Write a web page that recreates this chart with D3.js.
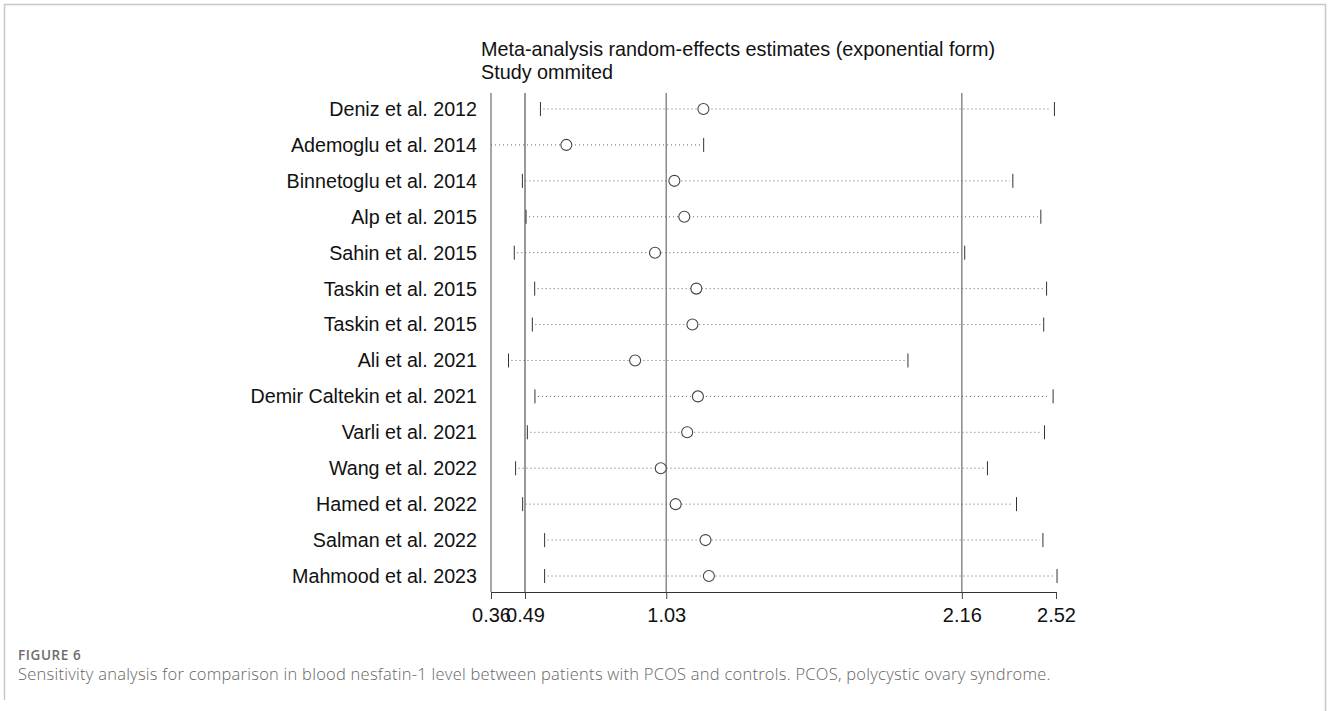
<!DOCTYPE html>
<html>
<head>
<meta charset="utf-8">
<script src="https://cdn.jsdelivr.net/npm/d3@7"></script>
<style>
  body { margin: 0; background: #fff; }
</style>
</head>
<body>
<div class="chart"></div>
<script>
// study omitted, with lower CI / estimate / upper CI (exponential form)
const studies = [
  "Deniz et al. 2012", "Ademoglu et al. 2014", "Binnetoglu et al. 2014", "Alp et al. 2015",
  "Sahin et al. 2015", "Taskin et al. 2015", "Taskin et al. 2015", "Ali et al. 2021",
  "Demir Caltekin et al. 2021", "Varli et al. 2021", "Wang et al. 2022", "Hamed et al. 2022",
  "Salman et al. 2022", "Mahmood et al. 2023"
];
const lower    = [0.549, 0.33, 0.480, 0.494, 0.449, 0.527, 0.518, 0.427, 0.528, 0.499, 0.454, 0.481, 0.565, 0.565];
const estimate = [1.172, 0.648, 1.061, 1.099, 0.987, 1.145, 1.130, 0.911, 1.151, 1.110, 1.009, 1.066, 1.180, 1.193];
const upper    = [2.514, 1.173, 2.355, 2.462, 2.171, 2.484, 2.473, 1.954, 2.509, 2.476, 2.258, 2.369, 2.470, 2.524];

const tickValues = [0.36, 0.49, 1.03, 2.16, 2.52];
const refLines = [0.49, 1.03, 2.16];
const titleLines = ["Meta-analysis random-effects estimates (exponential form)", "Study ommited"];
const figLabel = "FIGURE 6";
const caption = "Sensitivity analysis for comparison in blood nesfatin-1 level between patients with PCOS and controls. PCOS, polycystic ovary syndrome.";

const W = 1328, H = 711;
const svg = d3.select(".chart").append("svg").attr("width", W).attr("height", H);

// page frame (left, top, right)
svg.append("path")
  .attr("d", "M4.5,700 V4.5 H1325.5 V711")
  .attr("fill", "none").attr("stroke", "#c8c8c8").attr("stroke-width", 1.5);

const x = d3.scaleLinear().domain([0.36, 2.52]).range([491, 1056]);
const y = d3.scalePoint().domain(d3.range(studies.length)).range([109, 576]);
const plotTop = 93, plotBottom = 592;

const font = "Liberation Sans, Arial, sans-serif";

// title
svg.selectAll("text.title").data(titleLines).enter().append("text")
  .attr("class", "title")
  .attr("x", 481).attr("y", (d, i) => 56 + i * 23)
  .attr("font-family", font).attr("font-size", 19.8).attr("fill", "#111")
  .text(d => d);

// reference vertical lines
svg.selectAll("line.ref").data(refLines).enter().append("line")
  .attr("x1", d => x(d)).attr("x2", d => x(d))
  .attr("y1", plotTop).attr("y2", plotBottom)
  .attr("stroke", (d, i) => i === 0 ? "#333" : "#8a8a8a")
  .attr("stroke-width", (d, i) => i === 0 ? 1 : 1.5);

// left axis line
svg.append("line")
  .attr("x1", x(0.36)).attr("x2", x(0.36))
  .attr("y1", plotTop).attr("y2", plotBottom)
  .attr("stroke", "#8a8a8a").attr("stroke-width", 1.5);

// x axis
const xAxis = d3.axisBottom(x).tickValues(tickValues).tickSize(7).tickSizeOuter(0)
  .tickFormat(d3.format(".2f"));
const axisG = svg.append("g").attr("transform", `translate(0,${plotBottom})`).call(xAxis);
axisG.select(".domain").attr("stroke", "#333").attr("stroke-width", 1.2);
axisG.selectAll(".tick line").attr("stroke", "#444").attr("stroke-width", 1);
axisG.selectAll(".tick text")
  .attr("font-family", font).attr("font-size", 20).attr("fill", "#111")
  .attr("y", 30).attr("dy", 0);

// study labels
svg.selectAll("text.study").data(studies).enter().append("text")
  .attr("class", "study")
  .attr("x", 477).attr("y", (d, i) => y(i)).attr("dy", "0.35em")
  .attr("text-anchor", "end")
  .attr("font-family", font).attr("font-size", 19.7).attr("fill", "#111")
  .text(d => d);

const xmin = 0.36;
const rows = svg.selectAll("g.row").data(studies.map((s, i) => i)).enter().append("g").attr("class", "row");

// dotted CI lines
rows.append("line")
  .attr("x1", i => lower[i] < xmin ? x(xmin) : x(lower[i]) + 3)
  .attr("x2", i => x(upper[i]) - 3)
  .attr("y1", i => y(i)).attr("y2", i => y(i))
  .attr("stroke", "#666").attr("stroke-width", 1)
  .attr("stroke-dasharray", "1,3");

// CI caps
rows.filter(i => lower[i] >= xmin).append("line")
  .attr("x1", i => x(lower[i])).attr("x2", i => x(lower[i]))
  .attr("y1", i => y(i) - 7).attr("y2", i => y(i) + 7)
  .attr("stroke", "#333").attr("stroke-width", 1);
rows.append("line")
  .attr("x1", i => x(upper[i])).attr("x2", i => x(upper[i]))
  .attr("y1", i => y(i) - 7).attr("y2", i => y(i) + 7)
  .attr("stroke", "#333").attr("stroke-width", 1);

// estimate markers
rows.append("circle")
  .attr("cx", i => x(estimate[i])).attr("cy", i => y(i)).attr("r", 5.5)
  .attr("fill", "#fff").attr("stroke", "#444").attr("stroke-width", 1.1);

// caption
svg.append("text")
  .attr("x", 18).attr("y", 660)
  .attr("font-family", "Open Sans, sans-serif").attr("font-size", 13.5).attr("font-weight", 600)
  .attr("letter-spacing", 0.6)
  .attr("fill", "#6d6d6d")
  .text(figLabel);
svg.append("text")
  .attr("x", 18).attr("y", 680)
  .attr("font-family", "Open Sans, sans-serif").attr("font-size", 16.5).attr("font-weight", 300)
  .attr("letter-spacing", 0.25)
  .attr("fill", "#666")
  .text(caption);
</script>
</body>
</html>
